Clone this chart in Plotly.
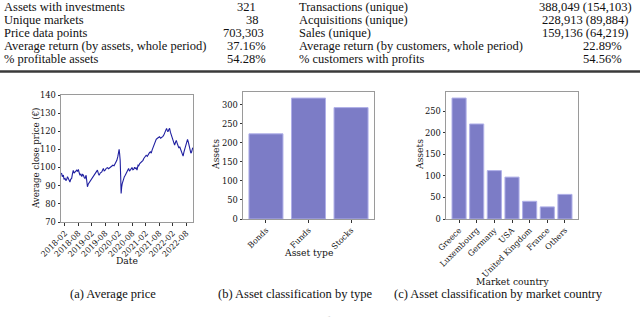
import plotly.graph_objects as go

W, H = 640, 317

# ---------------- data ----------------
table_left_labels = ["Assets with investments", "Unique markets", "Price data points",
                     "Average return (by assets, whole period)", "% profitable assets"]
table_left_values = ["321", "38", "703,303", "37.16%", "54.28%"]
table_right_labels = ["Transactions (unique)", "Acquisitions (unique)", "Sales (unique)",
                      "Average return (by customers, whole period)", "% customers with profits"]
table_right_values = ["388,049 (154,103)", "228,913 (89,884)", "159,136 (64,219)", "22.89%", "54.56%"]

price_dates = ["2017-12-12", "2017-12-19", "2017-12-28", "2018-01-11", "2018-01-20", "2018-02-03",
               "2018-02-14", "2018-02-26", "2018-03-08", "2018-03-18", "2018-03-28", "2018-04-10",
               "2018-04-20", "2018-05-03", "2018-05-14", "2018-05-25", "2018-06-05", "2018-06-17",
               "2018-06-28", "2018-07-10", "2018-07-21", "2018-08-02", "2018-08-14", "2018-08-25",
               "2018-09-05", "2018-09-17", "2018-09-28", "2018-10-09", "2018-10-20", "2018-10-31",
               "2018-11-15", "2018-11-25", "2018-12-03", "2018-12-15", "2019-01-01", "2019-01-15",
               "2019-01-31", "2019-02-15", "2019-03-01", "2019-03-17", "2019-04-01", "2019-04-17",
               "2019-05-01", "2019-05-10", "2019-05-25", "2019-06-15", "2019-06-25", "2019-07-07",
               "2019-07-18", "2019-07-31", "2019-08-15", "2019-08-31", "2019-09-15", "2019-10-06",
               "2019-10-22", "2019-11-12", "2019-11-28", "2019-12-13", "2019-12-25", "2020-01-05",
               "2020-01-18", "2020-01-28", "2020-02-05", "2020-02-12", "2020-02-19", "2020-02-26",
               "2020-03-03", "2020-03-10", "2020-03-17", "2020-03-26", "2020-04-04", "2020-04-16",
               "2020-04-28", "2020-05-09", "2020-05-20", "2020-06-01", "2020-06-12", "2020-06-24",
               "2020-07-05", "2020-07-16", "2020-07-28", "2020-08-09", "2020-08-20", "2020-09-01",
               "2020-09-11", "2020-09-22", "2020-10-04", "2020-10-18", "2020-10-28", "2020-11-10",
               "2020-11-25", "2020-12-12", "2020-12-24", "2021-01-04", "2021-01-20", "2021-02-05",
               "2021-02-20", "2021-03-11", "2021-03-22", "2021-04-03", "2021-04-15", "2021-04-26",
               "2021-05-07", "2021-05-18", "2021-05-29", "2021-06-10", "2021-06-21", "2021-07-03",
               "2021-07-18", "2021-08-04", "2021-08-20", "2021-09-09", "2021-09-20", "2021-10-02",
               "2021-10-14", "2021-10-25", "2021-11-08", "2021-11-17", "2021-11-26", "2021-12-08",
               "2021-12-19", "2021-12-30", "2022-01-11", "2022-01-22", "2022-02-03", "2022-02-14",
               "2022-02-25", "2022-03-08", "2022-03-20", "2022-03-31", "2022-04-12", "2022-04-24",
               "2022-05-05", "2022-05-16", "2022-05-28", "2022-06-08", "2022-06-20", "2022-07-01",
               "2022-07-13", "2022-07-24", "2022-08-05", "2022-08-19", "2022-08-30", "2022-09-10",
               "2022-09-21", "2022-10-03", "2022-10-12", "2022-10-21", "2022-10-29"]
price_values = [97.0, 96.7, 95.0, 95.8, 93.5, 94.0,
                92.8, 93.5, 95.0, 94.0, 93.0, 92.0,
                93.5, 94.0, 96.5, 98.5, 97.0, 97.6,
                98.0, 98.6, 97.8, 99.0, 97.0, 95.8,
                96.5, 95.0, 96.2, 95.8, 94.5, 94.0,
                95.8, 93.0, 89.4, 91.0, 92.0, 93.2,
                94.0, 95.0, 95.5, 96.7, 97.5, 98.6,
                96.5, 95.8, 97.0, 97.6, 98.5, 99.5,
                98.2, 98.6, 99.6, 100.0, 99.4, 100.0,
                100.8, 101.3, 101.0, 102.2, 102.8, 104.0,
                106.0, 108.7, 110.0, 107.5, 104.0, 95.0,
                85.7, 89.0, 91.0, 92.5, 94.0, 95.0,
                95.8, 96.8, 97.6, 98.8, 99.5, 98.0,
                98.6, 99.6, 100.0, 98.8, 99.0, 100.2,
                99.5, 99.8, 98.6, 101.3, 101.0, 102.2,
                102.8, 103.2, 104.0, 105.0, 105.8, 106.8,
                106.2, 107.8, 108.2, 108.7, 108.0, 109.6,
                110.8, 112.4, 114.0, 115.0, 115.6, 116.0,
                116.5, 117.0, 116.2, 116.6, 117.2, 117.9,
                119.0, 120.7, 121.6, 120.5, 119.7, 120.8,
                121.6, 119.5, 117.9, 116.8, 116.0, 114.0,
                112.4, 113.8, 115.0, 113.5, 112.4, 110.8,
                111.5, 110.2, 109.6, 108.0, 106.3, 108.5,
                110.5, 112.5, 114.2, 115.5, 114.0, 112.4,
                110.0, 108.0, 108.5, 109.6, 111.0]

date_ticks = ["2018-02-01", "2018-08-01", "2019-02-01", "2019-08-01", "2020-02-01",
              "2020-08-01", "2021-02-01", "2021-08-01", "2022-02-01", "2022-08-01"]
date_tick_labels = ["2018-02", "2018-08", "2019-02", "2019-08", "2020-02",
                    "2020-08", "2021-02", "2021-08", "2022-02", "2022-08"]

asset_types = ["Bonds", "Funds", "Stocks"]
asset_type_counts = [224, 318, 293]

countries = ["Greece", "Luxembourg", "Germany", "USA", "United Kingdom", "France", "Others"]
country_counts = [280, 220, 112, 97, 41, 28, 57]

captions = ["(a) Average price", "(b) Asset classification by type",
            "(c) Asset classification by market country"]

# ---------------- helpers ----------------
def px(x):
    return x / W

def py(y):
    return 1 - y / H

SERIF = "DejaVu Serif"
TIMES = "Liberation Serif"
BAR_COLOR = "rgb(124,124,198)"
BAR_EDGE = "rgb(176,176,232)"
SPINE = "#9a9a9a"

fig = go.Figure()

fig.add_trace(go.Scatter(x=price_dates, y=price_values, mode="lines",
                         line=dict(color="#1f1fa0", width=1.1),
                         xaxis="x", yaxis="y", showlegend=False))
fig.add_trace(go.Bar(x=asset_types, y=asset_type_counts,
                     marker=dict(color=BAR_COLOR, line=dict(color=BAR_EDGE, width=1)),
                     xaxis="x2", yaxis="y2", showlegend=False))
fig.add_trace(go.Bar(x=countries, y=country_counts,
                     marker=dict(color=BAR_COLOR, line=dict(color=BAR_EDGE, width=1)),
                     xaxis="x3", yaxis="y3", showlegend=False))

axis_common = dict(showline=True, mirror=True, linecolor=SPINE, linewidth=1,
                   showgrid=False, zeroline=False, ticks="outside", ticklen=2.5,
                   tickcolor="#333", tickwidth=1, automargin=False)
xfont = dict(family=SERIF, size=8, color="#111")
yfont = dict(family=SERIF, size=8.3, color="#111")

fig.update_layout(
    template="none",
    width=W, height=H,
    margin=dict(l=0, r=0, t=0, b=0, pad=0),
    paper_bgcolor="white", plot_bgcolor="white",
    bargap=0.2,
    xaxis=dict(domain=[px(61), px(193)], anchor="y", type="date",
               range=["2017-12-10", "2022-11-01"],
               tickmode="array", tickvals=date_ticks, ticktext=date_tick_labels,
               tickangle=-45, tickfont=xfont, **axis_common),
    yaxis=dict(domain=[py(222), py(95)], anchor="x", range=[70, 140],
               tickmode="array", tickvals=[70, 80, 90, 100, 110, 120, 130, 140],
               tickfont=yfont, **axis_common),
    xaxis2=dict(domain=[px(243), px(374)], anchor="y2", range=[-0.54, 2.54],
                tickangle=-45, tickfont=xfont, **axis_common),
    yaxis2=dict(domain=[py(219), py(92)], anchor="x2", range=[0, 334],
                tickmode="array", tickvals=[0, 50, 100, 150, 200, 250, 300],
                tickfont=yfont, **axis_common),
    xaxis3=dict(domain=[px(446), px(578)], anchor="y3", range=[-0.74, 6.74],
                tickangle=-45, tickfont=xfont, **axis_common),
    yaxis3=dict(domain=[py(219), py(92)], anchor="x3", range=[0, 294],
                tickmode="array", tickvals=[0, 50, 100, 150, 200, 250],
                tickfont=yfont, **axis_common),
)

ann = []
# table
row_y = [7, 20, 33, 46, 59]
left_val_x = [246, 252, 243, 246, 246]
right_val_x = [585, 585, 585, 602, 602]
for i in range(5):
    ann.append(dict(x=px(2), y=py(row_y[i]), text=table_left_labels[i], xanchor="left"))
    ann.append(dict(x=px(left_val_x[i]), y=py(row_y[i]), text=table_left_values[i], xanchor="center"))
    ann.append(dict(x=px(297), y=py(row_y[i]), text=table_right_labels[i], xanchor="left"))
    ann.append(dict(x=px(right_val_x[i]), y=py(row_y[i]), text=table_right_values[i], xanchor="center"))
for a in ann:
    a.update(xref="paper", yref="paper", yanchor="middle", showarrow=False,
             font=dict(family=TIMES, size=12.5, color="#111"))

# axis titles
titles = [
    dict(x=px(36), y=py(159), text="Average close price (€)", textangle=-90, size=8.6),
    dict(x=px(127), y=py(260), text="Date", size=9.2),
    dict(x=px(215), y=py(155), text="Assets", textangle=-90, size=9.2),
    dict(x=px(419), y=py(155), text="Assets", textangle=-90, size=9.2),
    dict(x=px(308), y=py(252), text="Asset type", size=9.2),
    dict(x=px(512), y=py(281), text="Market country", size=9.2),
]
for t in titles:
    s = t.pop("size")
    t.update(xref="paper", yref="paper", xanchor="center", yanchor="middle",
             showarrow=False, font=dict(family=SERIF, size=s, color="#111"))
    ann.append(t)

# captions
cap_x = [113, 295, 498]
for c, x in zip(captions, cap_x):
    ann.append(dict(x=px(x), y=py(294), text=c, xref="paper", yref="paper",
                    xanchor="center", yanchor="middle", showarrow=False,
                    font=dict(family=TIMES, size=12.5, color="#111")))
ann.append(dict(x=px(320), y=py(312), text="Figure 1: Financial asset statistics",
                xref="paper", yref="paper", xanchor="center", yanchor="top",
                showarrow=False, font=dict(family=TIMES, size=12.5, color="#dddddd")))

fig.update_layout(annotations=ann)

fig.add_shape(type="line", xref="paper", yref="paper",
              x0=0, x1=1, y0=py(71.5), y1=py(71.5),
              line=dict(color="#3a3a3a", width=2.5))

fig.write_html("out.html", config={"displayModeBar": False},
               post_script="document.body.style.margin='0';document.body.style.overflow='hidden';")
